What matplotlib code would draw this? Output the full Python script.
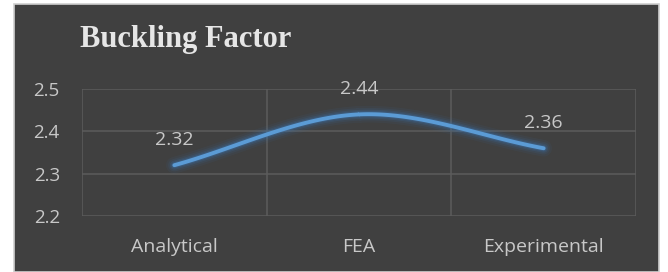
import numpy as np
import matplotlib.pyplot as plt
from matplotlib.patches import Rectangle

# ── Data ─────────────────────────────────────────────────────────────────────
categories = [ "Analytical", "FEA", "Experimental" ]
values = [ 2.32, 2.44, 2.36 ]
yticks = [ 2.2, 2.3, 2.4, 2.5 ]

# ── Palette ──────────────────────────────────────────────────────────────────
BG = "#404040"
GRID = "#5c5c5c"
TEXT = "#c8c8c8"
LINE = "#5b9bd5"
FONT = "Open Sans"


def smooth( x, y, n = 60 ):
    """Catmull-Rom spline through the points (Excel-style smoothed line)."""
    x = np.asarray( x, float )
    y = np.asarray( y, float )
    px = np.concatenate( [ [ 2 * x[ 0 ] - x[ 1 ] ], x, [ 2 * x[ -1 ] - x[ -2 ] ] ] )
    py = np.concatenate( [ [ 2 * y[ 0 ] - y[ 1 ] ], y, [ 2 * y[ -1 ] - y[ -2 ] ] ] )
    xs, ys = [ ], [ ]
    t = np.linspace( 0, 1, n )
    for i in range( 1, len( px ) - 2 ):
        for p, out in ((px, xs), (py, ys)):
            p0, p1, p2, p3 = p[ i - 1 ], p[ i ], p[ i + 1 ], p[ i + 2 ]
            out.extend( 0.5 * (2 * p1 + (-p0 + p2) * t
                               + (2 * p0 - 5 * p1 + 4 * p2 - p3) * t ** 2
                               + (-p0 + 3 * p1 - 3 * p2 + p3) * t ** 3) )
    return np.array( xs ), np.array( ys )


fig = plt.figure( figsize = (6.68, 2.72), dpi = 100 )
fig.patch.set_facecolor( "white" )
bg = Rectangle( (14 / 668, 0), 645 / 668, 1 - 4 / 272,
                transform = fig.transFigure, facecolor = BG,
                edgecolor = "#d0d0d0", linewidth = 1.2, zorder = -5 )
fig.add_artist( bg )

ax = fig.add_axes( [ 82 / 668, 1 - 216 / 272, 554 / 668, 127 / 272 ] )
ax.set_zorder( 1 )
ax.patch.set_alpha( 0 )

x = np.arange( len( categories ) )
ax.set_xlim( -0.5, len( categories ) - 0.5 )
ax.set_ylim( 2.2, 2.5 )

# grid
for yv in yticks:
    ax.axhline( yv, color = GRID, lw = 1.1, zorder = 1 )
for xv in np.arange( -0.5, len( categories ), 1.0 ):
    ax.axvline( xv, color = GRID, lw = 1.1, zorder = 1 )

# smoothed line with glow
sx, sy = smooth( x, values )
for lw, a in ((12, 0.07), (9, 0.10), (6.5, 0.16), (4.5, 0.25)):
    ax.plot( sx, sy, color = "#3a78b8", lw = lw, alpha = a,
             solid_capstyle = "round", zorder = 2 )
ax.plot( sx, sy, color = LINE, lw = 2.8, solid_capstyle = "round", zorder = 3 )

# data labels
for xi, v in zip( x, values ):
    ax.annotate( f"{v:.2f}", (xi, v), xytext = (0, 12), textcoords = "offset points",
                 ha = "center", va = "bottom", fontsize = 14, color = TEXT,
                 family = FONT )

ax.set_xticks( x )
ax.set_xticklabels( categories, fontsize = 14, color = TEXT, family = FONT )
ax.set_yticks( yticks )
ax.set_yticklabels( [ f"{t:.1f}" for t in yticks ], fontsize = 13.5, color = TEXT,
                    family = FONT )
ax.tick_params( length = 0 )
ax.tick_params( axis = "x", pad = 16 )
ax.tick_params( axis = "y", pad = 16 )
for s in ax.spines.values():
    s.set_visible( False )

fig.text( 80 / 668, 1 - 40 / 272, "Buckling Factor", ha = "left", va = "center",
          fontsize = 22, fontweight = "bold", color = "#e6e6e6",
          family = "Liberation Serif" )

fig.savefig( "out.png", dpi = 100, facecolor = "white" )
